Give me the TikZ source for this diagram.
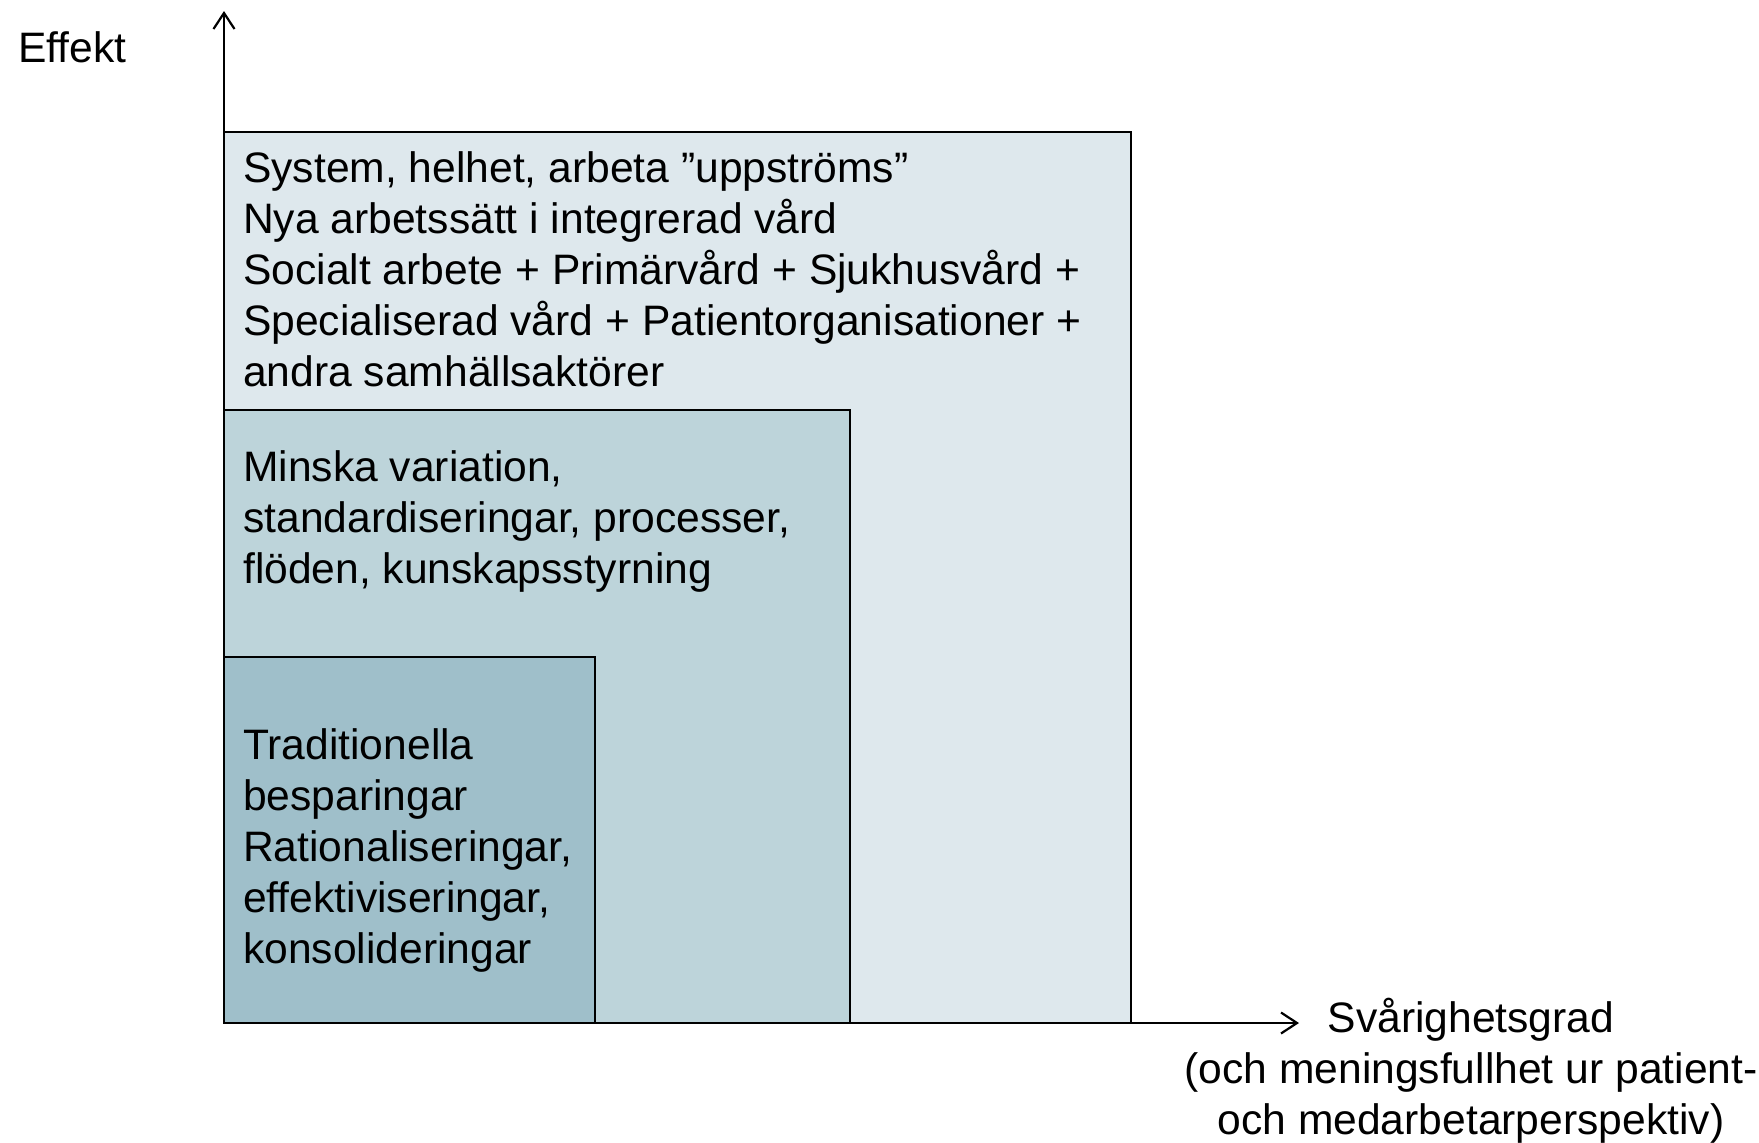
\documentclass[tikz,border=0pt]{standalone}
\usepackage{fontspec}
\setmainfont{Liberation Sans}
\usetikzlibrary{arrows.meta}
\definecolor{outerc}{RGB}{222,232,237}
\definecolor{midc}{RGB}{189,212,218}
\definecolor{innerc}{RGB}{159,191,202}
\begin{document}
\begin{tikzpicture}[x=1pt,y=-1pt,
  boxst/.style={draw=black,line width=2pt},
  axis/.style={line width=2.6pt,-{Straight Barb[length=16pt,width=21pt,line width=2.2pt]}},
  txt/.style={anchor=base west,inner sep=0pt,align=left,font=\fontsize{42.6}{51}\selectfont},
  lbl/.style={anchor=base,inner sep=0pt,align=center,font=\fontsize{42.6}{51}\selectfont}]
\useasboundingbox (0,0) rectangle (1759,1143);
% boxes
\filldraw[boxst,fill=outerc] (224,1023) rectangle (1131,132);
\filldraw[boxst,fill=midc] (224,1023) rectangle (850,410);
\filldraw[boxst,fill=innerc] (224,1023) rectangle (595,657);
% axes
\coordinate (O) at (224,1023);
\coordinate (ytip) at (224,11);
\coordinate (xtip) at (1299,1023);
\draw[axis] (O) -- (ytip);
\draw[axis] (O) -- (xtip);
% texts (base anchor = baseline of last line)
\node[txt] (outert) at (243,386) {System, helhet, arbeta ”uppströms”\\Nya arbetssätt i integrerad vård\\Socialt arbete + Primärvård + Sjukhusvård +\\Specialiserad vård + Patientorganisationer +\\andra samhällsaktörer};
\node[txt] (midt) at (243,583) {Minska variation,\\standardiseringar, processer,\\flöden, kunskapsstyrning};
\node[txt] (innert) at (243,963) {Traditionella\\besparingar\\Rationaliseringar,\\effektiviseringar,\\konsolideringar};
\node[txt] (yl) at (18,62) {Effekt};
\node[lbl] (xl) at (1471,1134) {Svårighetsgrad\\(och meningsfullhet ur patient-\\och medarbetarperspektiv)};
\end{tikzpicture}
\end{document}
